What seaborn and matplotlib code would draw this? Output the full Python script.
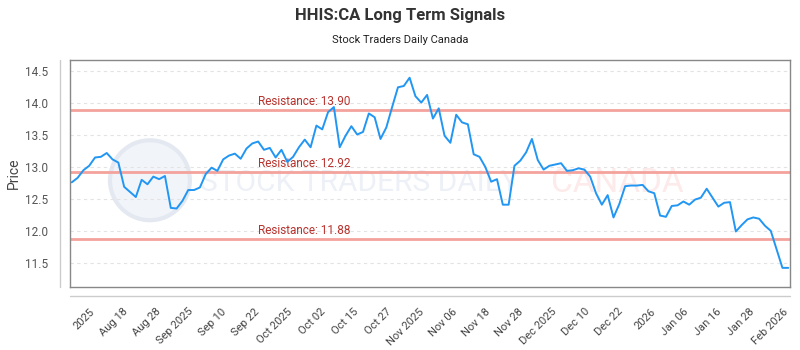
import numpy as np
import pandas as pd
import seaborn as sns
import matplotlib.pyplot as plt
from matplotlib.patches import Ellipse
from matplotlib.lines import Line2D

# values
prices = [12.76, 12.83, 12.95, 13.02, 13.15, 13.16, 13.22, 13.12, 13.07, 12.69,
          12.61, 12.53, 12.80, 12.73, 12.85, 12.81, 12.86, 12.36, 12.35, 12.47,
          12.64, 12.64, 12.68, 12.89, 12.99, 12.94, 13.12, 13.18, 13.21, 13.13,
          13.29, 13.37, 13.40, 13.27, 13.30, 13.15, 13.27, 13.08, 13.16, 13.31,
          13.43, 13.31, 13.65, 13.59, 13.86, 13.94, 13.31, 13.49, 13.64, 13.51,
          13.55, 13.84, 13.78, 13.44, 13.62, 13.94, 14.25, 14.27, 14.40, 14.11,
          14.01, 14.13, 13.76, 13.92, 13.49, 13.38, 13.82, 13.70, 13.67, 13.20,
          13.16, 13.00, 12.77, 12.81, 12.41, 12.41, 13.02, 13.10, 13.23, 13.44,
          13.11, 12.96, 13.02, 13.04, 13.06, 12.94, 12.95, 12.98, 12.96, 12.85,
          12.59, 12.41, 12.56, 12.21, 12.42, 12.70, 12.71, 12.71, 12.72, 12.62,
          12.59, 12.24, 12.22, 12.39, 12.40, 12.46, 12.41, 12.49, 12.52, 12.66,
          12.52, 12.38, 12.44, 12.45, 11.99, 12.09, 12.18, 12.21, 12.19, 12.08,
          12.00, 11.71, 11.42, 11.42]
resistance = [13.90, 12.92, 11.88]
tick_labels = ['2025', 'Aug 18', 'Aug 28', 'Sep 2025', 'Sep 10', 'Sep 22',
               'Oct 2025', 'Oct 02', 'Oct 15', 'Oct 27', 'Nov 2025', 'Nov 06',
               'Nov 18', 'Nov 28', 'Dec 2025', 'Dec 10', 'Dec 22', '2026',
               'Jan 06', 'Jan 16', 'Jan 28', 'Feb 2026']

df = pd.DataFrame({'day': np.arange(len(prices)), 'price': prices})

sns.set_style('white')
plt.rcParams['font.family'] = ['Roboto', 'DejaVu Sans']

fig = plt.figure(figsize=(8, 3.5), dpi=100)
ax = fig.add_axes([0.0875, 0.18, 0.9, 0.649])

# watermark (logo circle + brand text)
ax.add_patch(Ellipse((0.111, 0.47), 0.111, 0.352, transform=ax.transAxes,
                     facecolor='#f1f4f9', edgecolor='#e4e9f1', lw=3, zorder=0))
ax.text(0.18, 0.46, 'STOCK TRADERS DAILY', transform=ax.transAxes, fontsize=21.5,
        color='#edf1f7', va='center', ha='left', zorder=0)
ax.text(0.668, 0.46, 'CANADA', transform=ax.transAxes, fontsize=24,
        color='#fdeaea', va='center', ha='left', zorder=0)

for r in resistance:
    ax.axhline(r, color='#f4a29c', lw=2, zorder=2)
    ax.text(32, r + 0.03, f'Resistance: {r:.2f}', color='#b8322d',
            fontsize=8.5, ha='left', va='bottom', zorder=3)

sns.lineplot(data=df, x='day', y='price', color='#2196f3', lw=1.4, ax=ax, zorder=4)

ax.set_xlim(-0.3, 123.3)
ax.set_ylim(11.12, 14.68)
ax.set_yticks([11.5, 12.0, 12.5, 13.0, 13.5, 14.0, 14.5])
ax.set_yticklabels(['11.5', '12.0', '12.5', '13.0', '13.5', '14.0', '14.5'])
ax.set_xticks(np.linspace(3, 122, len(tick_labels)))
ax.set_xticklabels(tick_labels, rotation=45, ha='right', rotation_mode='anchor')
ax.tick_params(axis='x', labelsize=8, colors='#444444', length=0, pad=14)
ax.tick_params(axis='y', labelsize=8.5, colors='#555555', length=0, pad=16)
ax.grid(axis='y', color='#e3e3e3', ls=(0, (3, 3)), lw=0.8)
ax.set_axisbelow(True)
ax.set_xlabel('')
ax.set_ylabel('Price', fontsize=10, color='#444444', labelpad=3)
for s in ax.spines.values():
    s.set_color('#888888')
    s.set_linewidth(1)

# outer axis lines
fig.add_artist(Line2D([0.075, 0.075], [0.18, 0.829], color='#cccccc', lw=1))
fig.add_artist(Line2D([0.0875, 0.9875], [0.154, 0.154], color='#cccccc', lw=1))

fig.text(0.5, 0.955, 'HHIS:CA Long Term Signals', ha='center', va='center',
         fontsize=12, fontweight='bold', color='#333333')
fig.text(0.5, 0.885, 'Stock Traders Daily Canada', ha='center', va='center',
         fontsize=8, color='#222222')

fig.savefig('out.png', dpi=100)
